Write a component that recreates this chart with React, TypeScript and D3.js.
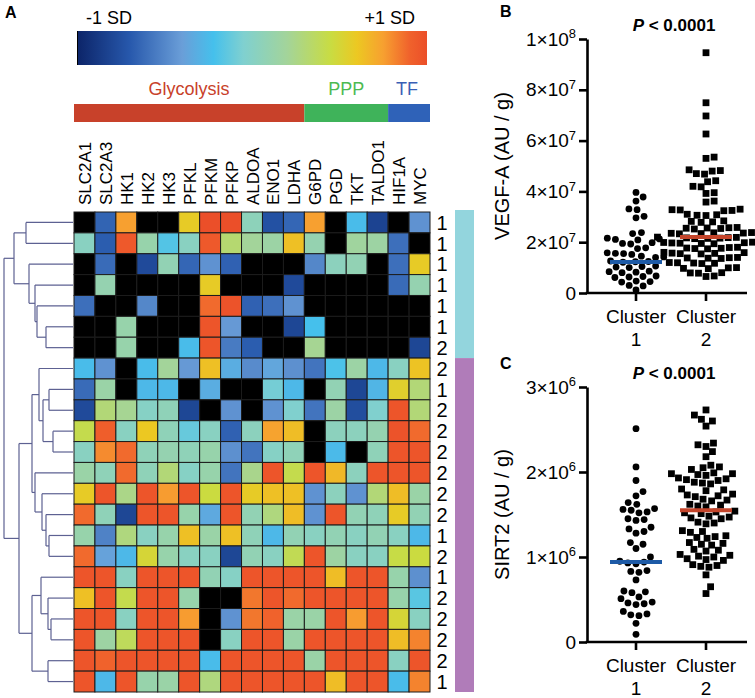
import { useEffect, useRef } from "react";
import * as d3 from "d3";

const FONT = "'Liberation Sans', Arial, Helvetica, sans-serif";

// ---- heatmap data ----
const genes = ["SLC2A1", "SLC2A3", "HK1", "HK2", "HK3", "PFKL", "PFKM", "PFKP", "ALDOA", "ENO1", "LDHA", "G6PD", "PGD", "TKT", "TALDO1", "HIF1A", "MYC"];
const pathwayNames = ["Glycolysis", "PPP", "TF"];
const pathwayGeneCounts = [11, 4, 2];
const rowClusters = [1, 1, 1, 1, 1, 1, 2, 2, 1, 2, 2, 2, 2, 2, 2, 1, 2, 1, 2, 2, 2, 2, 1];
const sideGroupSizes = [7, 16];

// z-scores clipped to [-1, 1]; null = not detected (black)
const heatValues = [
    [null, -0.65, 0.75, null, null, 0.58, 1, 1, 0.05, -0.74, -0.64, 0.75, null, -0.24, -0.82, null, -0.45],
    [0.02, -0.68, 0.95, 0.12, -0.18, 0.02, 0.95, 0.32, 0.2, 0.15, 0.63, 0.1, null, 0.18, 0.16, -0.6, null],
    [null, -0.62, null, -0.78, 0.08, -0.64, -0.45, -0.66, null, null, null, -0.5, 0.04, 0.08, null, -0.6, 0.58],
    [null, 0.1, null, null, null, null, 0.58, null, null, null, -0.78, null, null, null, null, -0.62, 0.1],
    [-0.6, null, null, -0.5, null, null, 0.88, 0.98, -0.66, -0.6, -0.45, null, null, null, null, null, null],
    [null, null, 0.12, null, null, null, 0.97, -0.42, null, null, -0.8, -0.22, null, null, null, null, null],
    [null, null, 0.12, null, null, -0.24, 0.97, -0.55, -0.68, null, null, 0.22, null, null, null, null, -0.8],
    [-0.24, -0.45, null, -0.24, 0.2, -0.42, 0.63, -0.32, -0.48, -0.36, -0.46, -0.58, -0.2, 0.15, -0.26, 0.02, 0.62],
    [-0.62, 0.14, null, -0.26, -0.26, null, -0.32, null, null, -0.08, -0.26, null, 0.08, -0.8, -0.28, 0.55, 0.3],
    [-0.78, 0.3, 0.22, 0.0, 0.06, -0.8, null, -0.45, null, -0.45, -0.04, -0.58, 0.15, -0.76, -0.04, 0.97, 0.3],
    [0.42, 0.92, 0.02, 0.6, 0.06, -0.12, 0.02, -0.66, 0.04, 0.74, 0.64, null, 0.04, 0.04, 0.1, 0.98, 0.88],
    [0.02, 0.8, 0.88, 0.06, 0.1, 0.06, 0.12, -0.46, -0.58, 0.0, 0.06, null, -0.25, null, 0.06, 0.97, 0.97],
    [0.14, 0.06, 0.88, 0.06, 0.3, 0.0, 0.12, -0.58, 0.24, 0.97, 0.42, 0.97, 0.66, 0.04, 0.97, 0.97, 0.97],
    [0.58, 0.97, 0.25, 0.97, 0.76, 0.97, 0.46, 0.97, 0.58, 0.63, 0.63, -0.45, 0.04, -0.45, 0.3, 0.64, 0.14],
    [0.88, 0.06, -0.8, 0.97, 0.97, 0.12, -0.34, 0.97, 0.08, 0.28, 0.64, -0.45, 0.97, 0.08, 0.06, 0.58, 0.08],
    [0.12, -0.52, 0.28, 0.02, 0.12, 0.63, 0.14, 0.63, 0.06, -0.26, 0.08, 0.02, 0.08, 0.02, 0.08, 0.02, -0.26],
    [0.88, -0.38, -0.26, 0.5, 0.12, 0.02, 0.02, -0.8, 0.08, 0.02, 0.4, 0.97, 0.16, 0.02, 0.02, 0.44, 0.46],
    [0.97, 0.97, 0.02, 0.97, 0.97, 0.97, 0.08, 0.0, 0.97, 0.97, 0.97, 0.97, 0.64, 0.97, 0.97, 0.12, -0.46],
    [0.63, 0.97, 0.42, 0.97, 0.97, 0.12, null, null, 0.85, 0.97, 0.88, 0.97, 0.97, 0.97, 0.97, 0.12, -0.16],
    [0.97, 0.97, 0.02, 0.97, 0.97, 0.76, null, -0.45, 0.85, 0.9, 0.14, 0.14, 0.97, 0.76, 0.97, 0.5, 0.02],
    [0.97, 0.16, 0.38, 0.97, 0.97, 0.97, null, 0.02, 0.97, 0.97, 0.14, 0.97, 0.97, 0.97, 0.97, 0.64, 0.82],
    [0.97, 0.9, 0.97, 0.97, 0.97, 0.97, -0.24, 0.97, 0.97, 0.97, 0.97, 0.14, 0.97, 0.97, 0.97, 0.02, 0.97],
    [0.97, -0.26, 0.97, 0.12, 0.14, 0.97, 0.28, 0.97, 0.97, 0.97, 0.97, 0.97, 0.64, 0.97, 0.97, -0.24, 0.82]
];

// row dendrogram (h = merge height, leaf = row index)
const dendrogram = {
    h: 69, children: [
        { h: 59, children: [
            { h: 47, children: [{ leaf: 0 }, { leaf: 1 }] },
            { h: 44, children: [{ leaf: 2 }, { h: 38, children: [{ leaf: 3 }, { h: 36, children: [{ leaf: 4 }, { h: 27, children: [{ leaf: 5 }, { leaf: 6 }] }] }] }] }
        ] },
        { h: 54, children: [
            { h: 41, children: [
                { h: 34, children: [{ leaf: 7 }, { h: 30, children: [{ h: 24, children: [{ leaf: 8 }, { leaf: 9 }] }, { h: 20, children: [{ leaf: 10 }, { leaf: 11 }] }] }] },
                { h: 38, children: [{ leaf: 12 }, { h: 31, children: [{ leaf: 13 }, { h: 27, children: [{ leaf: 14 }, { h: 24, children: [{ leaf: 15 }, { leaf: 16 }] }] }] }] }
            ] },
            { h: 41, children: [
                { h: 32, children: [{ leaf: 17 }, { h: 25, children: [{ leaf: 18 }, { h: 22, children: [{ leaf: 19 }, { leaf: 20 }] }] }] },
                { h: 25, children: [{ leaf: 21 }, { leaf: 22 }] }
            ] }
        ] }
    ]
};

// ---- scatter data ----
const clusterNames = ["1", "2"];
const vegfCluster1 = [
    3.96e7, 3.78e7, 3.62e7, 3.31e7, 3.28e7, 3.02e7, 2.96e7, 2.38e7, 2.34e7,
    2.16e7, 2.13e7, 2.11e7, 2.09e7, 1.98e7, 1.95e7, 1.93e7, 1.78e7, 1.75e7,
    1.58e7, 1.56e7, 1.55e7, 1.52e7, 1.45e7, 1.42e7, 1.4e7,
    1.26e7, 1.24e7, 1.23e7, 1.21e7, 1.06e7, 1.04e7, 1.02e7, 1.0e7,
    0.86e7, 0.84e7, 0.82e7, 0.8e7, 0.67e7, 0.65e7, 0.63e7, 0.61e7,
    0.47e7, 0.45e7, 0.43e7, 0.3e7, 0.28e7, 0.12e7
];
const vegfCluster2 = [
    9.46e7, 7.49e7, 6.97e7, 6.26e7, 5.35e7, 5.3e7,
    4.85e7, 4.82e7, 4.8e7, 4.7e7, 4.68e7, 4.42e7, 4.38e7, 4.2e7, 4.18e7, 3.95e7, 3.92e7, 3.62e7, 3.58e7,
    3.3e7, 3.28e7, 3.27e7, 3.25e7, 3.24e7, 3.1e7, 3.08e7, 3.06e7, 3.05e7,
    2.84e7, 2.82e7, 2.8e7, 2.78e7, 2.58e7, 2.57e7, 2.56e7, 2.55e7, 2.54e7, 2.52e7,
    2.4e7, 2.38e7, 2.37e7, 2.36e7, 2.35e7, 2.34e7, 2.33e7,
    2.2e7, 2.19e7, 2.18e7, 2.17e7, 2.16e7, 2.15e7, 2.14e7,
    2.0e7, 1.99e7, 1.98e7, 1.97e7, 1.96e7, 1.95e7, 1.94e7,
    1.8e7, 1.79e7, 1.77e7, 1.76e7, 1.75e7, 1.74e7,
    1.6e7, 1.59e7, 1.57e7, 1.56e7, 1.55e7, 1.54e7,
    1.4e7, 1.39e7, 1.38e7, 1.37e7, 1.36e7,
    1.2e7, 1.19e7, 1.18e7, 1.17e7, 1.16e7,
    1.0e7, 0.99e7, 0.97e7, 0.96e7, 0.8e7, 0.79e7, 0.78e7, 0.67e7, 0.65e7
];
const vegfCenters = [1.22e7, 2.2e7];

const sirtCluster1 = [
    2.51e6, 2.06e6, 1.9e6, 1.77e6, 1.72e6, 1.64e6, 1.62e6, 1.57e6, 1.56e6, 1.55e6,
    1.53e6, 1.52e6, 1.45e6, 1.44e6, 1.43e6, 1.35e6, 1.33e6, 1.3e6, 1.28e6, 1.17e6,
    1.15e6, 1.1e6, 1.0e6, 0.95e6, 0.94e6, 0.93e6, 0.92e6, 0.84e6, 0.83e6, 0.82e6,
    0.73e6, 0.6e6, 0.59e6, 0.58e6, 0.53e6, 0.51e6, 0.47e6, 0.46e6, 0.45e6, 0.44e6,
    0.36e6, 0.33e6, 0.32e6, 0.31e6, 0.22e6, 0.09e6
];
const sirtCluster2 = [
    2.73e6, 2.67e6, 2.62e6, 2.6e6, 2.54e6, 2.34e6, 2.32e6, 2.3e6, 2.24e6, 2.18e6,
    2.08e6, 2.06e6, 2.05e6, 2.03e6, 1.99e6, 1.98e6, 1.98e6, 1.97e6, 1.96e6,
    1.93e6, 1.92e6, 1.91e6, 1.9e6, 1.88e6, 1.87e6, 1.86e6, 1.8e6, 1.79e6, 1.78e6,
    1.74e6, 1.73e6, 1.72e6, 1.71e6, 1.68e6, 1.67e6, 1.66e6,
    1.62e6, 1.61e6, 1.6e6, 1.59e6, 1.54e6, 1.53e6, 1.52e6, 1.51e6,
    1.48e6, 1.47e6, 1.46e6, 1.45e6, 1.41e6, 1.4e6, 1.39e6, 1.31e6, 1.3e6, 1.29e6,
    1.25e6, 1.24e6, 1.23e6, 1.22e6, 1.17e6, 1.16e6, 1.15e6, 1.14e6,
    1.09e6, 1.08e6, 1.07e6, 1.03e6, 1.02e6, 1.01e6, 1.0e6,
    0.98e6, 0.97e6, 0.96e6, 0.91e6, 0.9e6, 0.89e6, 0.88e6, 0.79e6, 0.65e6, 0.57e6
];
const sirtCenters = [0.94e6, 1.55e6];

// colour ramp of the SD key
const heatStops = [-1, -0.7, -0.4, -0.22, -0.05, 0.2, 0.45, 0.6, 0.75, 0.9, 1];
const heatColors = ["#0c2468", "#2758ac", "#6a9ed8", "#45c0ec", "#7fd0d0", "#a3d49a", "#c9dc42", "#ecc822", "#f7a030", "#f0622c", "#eb4f29"];
const pathwayColors = ["#c8412a", "#3fb35a", "#2f62b8"];
const pathwayTextColors = ["#c8412a", "#4cba52", "#3a5fb5"];
const sideColors = ["#93d5dd", "#b07cb9"];

// simple beeswarm: place each point as close to centre as possible without overlap
function swarm(values, yScale, cx, d) {
    const pts = values.map((v) => ({ v, y: yScale(v), dx: 0 })).sort((a, b) => b.y - a.y);
    const placed = [];
    pts.forEach((p) => {
        const near = placed.filter((q) => Math.abs(q.y - p.y) < d);
        const cands = [0];
        near.forEach((q) => {
            const off = Math.sqrt(d * d - (q.y - p.y) ** 2);
            cands.push(q.dx + off, q.dx - off);
        });
        cands.sort((a, b) => Math.abs(a) - Math.abs(b));
        for (const c of cands) {
            if (near.every((q) => (q.dx - c) ** 2 + (q.y - p.y) ** 2 >= d * d - 0.01)) {
                p.dx = c;
                break;
            }
        }
        placed.push(p);
    });
    return placed.map((p) => ({ ...p, x: cx + p.dx }));
}

const App = () => {
    const svgRef = useRef(null);

    useEffect(() => {
        const svg = d3.select(svgRef.current);
        svg.selectAll("*").remove();
        svg.attr("font-family", FONT);

        const color = d3.scaleLinear().domain(heatStops).range(heatColors).clamp(true);

        // ---------- panel A ----------
        svg.append("text").attr("x", 5).attr("y", 18).attr("font-size", 16).attr("font-weight", "bold").text("A");

        // SD key
        const grad = svg.append("defs").append("linearGradient").attr("id", "sdgrad");
        heatStops.forEach((s, i) => {
            grad.append("stop").attr("offset", `${((s + 1) / 2) * 100}%`).attr("stop-color", heatColors[i]);
        });
        svg.append("rect").attr("x", 77).attr("y", 31).attr("width", 350).attr("height", 34).attr("fill", "url(#sdgrad)");
        svg.append("line").attr("x1", 77.5).attr("x2", 77.5).attr("y1", 31).attr("y2", 65).attr("stroke", "#000").attr("stroke-width", 1);
        svg.append("text").attr("x", 86).attr("y", 24).attr("font-size", 18).text("-1 SD");
        svg.append("text").attr("x", 415).attr("y", 24).attr("font-size", 18).attr("text-anchor", "end").text("+1 SD");

        const x = d3.scaleBand().domain(genes).range([74, 430]);
        const y = d3.scaleBand().domain(d3.range(heatValues.length)).range([212, 692]);

        // pathway bar
        let start = 0;
        pathwayNames.forEach((name, i) => {
            const g0 = genes[start];
            const g1 = genes[start + pathwayGeneCounts[i] - 1];
            const x0 = x(g0);
            const x1 = x(g1) + x.bandwidth();
            svg.append("rect").attr("x", x0).attr("y", 104).attr("width", x1 - x0).attr("height", 18).attr("fill", pathwayColors[i]);
            const cx = i === 0 ? 189 : (x0 + x1) / 2 + (i === 2 ? -2 : 0);
            svg.append("text").attr("x", cx).attr("y", 95).attr("text-anchor", "middle")
                .attr("font-size", 18).attr("fill", pathwayTextColors[i]).text(name);
            start += pathwayGeneCounts[i];
        });

        // gene labels
        svg.append("g")
            .selectAll("text")
            .data(genes)
            .join("text")
            .attr("transform", (d) => `translate(${x(d) + x.bandwidth() / 2 + 6.5},205) rotate(-90)`)
            .attr("font-size", 17)
            .text((d) => d);

        // cells
        const cells = heatValues.flatMap((row, r) => row.map((v, c) => ({ r, c, v })));
        svg.append("g")
            .selectAll("rect")
            .data(cells)
            .join("rect")
            .attr("x", (d) => x(genes[d.c]))
            .attr("y", (d) => y(d.r))
            .attr("width", x.bandwidth())
            .attr("height", y.bandwidth())
            .attr("fill", (d) => (d.v === null ? "#000" : color(d.v)))
            .attr("stroke", "#1c1c1c")
            .attr("stroke-width", 1);

        // cluster numbers
        svg.append("g")
            .selectAll("text")
            .data(rowClusters)
            .join("text")
            .attr("x", 442)
            .attr("y", (d, i) => y(i) + y.bandwidth() / 2)
            .attr("dy", "0.36em")
            .attr("text-anchor", "middle")
            .attr("font-size", 20)
            .text((d) => d);

        // side bar
        let rowStart = 0;
        sideGroupSizes.forEach((n, i) => {
            const y0 = i === 0 ? 210 : y(rowStart);
            const y1 = y(rowStart + n - 1) + y.bandwidth();
            svg.append("rect").attr("x", 455).attr("y", y0).attr("width", 19).attr("height", y1 - y0).attr("fill", sideColors[i]);
            rowStart += n;
        });

        // dendrogram
        const root = d3.hierarchy(dendrogram);
        const hx = d3.scaleLinear().domain([0, 69]).range([73, 4]);
        root.eachAfter((node) => {
            if (node.data.leaf !== undefined) {
                node.py = y(node.data.leaf) + y.bandwidth() / 2;
                node.px = hx(0);
            } else {
                node.py = (node.children[0].py + node.children[node.children.length - 1].py) / 2;
                node.px = hx(node.data.h);
            }
        });
        const segs = [];
        root.each((node) => {
            if (!node.children) return;
            const a = node.children[0];
            const b = node.children[node.children.length - 1];
            segs.push([node.px, a.py, node.px, b.py]);
            node.children.forEach((ch) => segs.push([node.px, ch.py, ch.px, ch.py]));
        });
        svg.append("g")
            .selectAll("line")
            .data(segs)
            .join("line")
            .attr("x1", (d) => d[0])
            .attr("y1", (d) => d[1])
            .attr("x2", (d) => d[2])
            .attr("y2", (d) => d[3])
            .attr("stroke", "#5d6192")
            .attr("stroke-width", 1.2);

        // ---------- panels B, C ----------
        const axisX = 587;
        const xr = d3.scalePoint().domain(clusterNames).range([636, 706]);

        const drawPanel = (opts) => {
            const g = svg.append("g");
            const ys = d3.scaleLinear().domain([0, opts.max]).range([opts.bottom, opts.top]);

            g.append("text").attr("x", 500).attr("y", opts.letterY).attr("font-size", 16).attr("font-weight", "bold").text(opts.letter);

            const pt = g.append("text").attr("x", 674).attr("y", opts.top - 8).attr("text-anchor", "middle")
                .attr("font-size", 17).attr("font-weight", "bold");
            pt.append("tspan").attr("font-style", "italic").text("P");
            pt.append("tspan").text(" < 0.0001");

            const yAxis = g.append("g")
                .attr("transform", `translate(${axisX},0)`)
                .call(d3.axisLeft(ys).tickValues(opts.ticks).tickSize(8).tickPadding(3).tickSizeOuter(0).tickFormat(() => ""));
            yAxis.attr("font-size", 19).attr("font-family", FONT);
            yAxis.select(".domain").attr("stroke", "#000").attr("stroke-width", 2.6);
            yAxis.selectAll(".tick line").attr("stroke", "#000").attr("stroke-width", 2.6);
            yAxis.selectAll(".tick text").attr("fill", "#000").each(function (d) {
                const t = d3.select(this);
                if (d === 0) {
                    t.text("0");
                    return;
                }
                const e = Math.floor(Math.log10(d) + 1e-9);
                const m = Math.round(d / 10 ** e);
                t.append("tspan").text(`${m}×10`);
                t.append("tspan").attr("dy", "-0.55em").attr("font-size", "0.68em").text(e);
            });

            g.append("line").attr("x1", axisX - 1.3).attr("x2", 747).attr("y1", opts.bottom).attr("y2", opts.bottom)
                .attr("stroke", "#000").attr("stroke-width", 2.6);
            clusterNames.forEach((c) => {
                g.append("line").attr("x1", xr(c)).attr("x2", xr(c)).attr("y1", opts.bottom).attr("y2", opts.bottom + 8)
                    .attr("stroke", "#000").attr("stroke-width", 2.6);
                g.append("text").attr("x", xr(c)).attr("y", opts.bottom + 30).attr("text-anchor", "middle").attr("font-size", 19).text("Cluster");
                g.append("text").attr("x", xr(c)).attr("y", opts.bottom + 53).attr("text-anchor", "middle").attr("font-size", 19).text(c);
            });

            g.append("text")
                .attr("transform", `translate(509,${(opts.top + opts.bottom) / 2}) rotate(-90)`)
                .attr("text-anchor", "middle")
                .attr("font-size", 20)
                .text(opts.label);

            const p1 = swarm(opts.c1, ys, xr("1"), 8.2);
            const p2 = swarm(opts.c2, ys, xr("2"), 8.2);
            g.append("g").selectAll("circle").data(p1).join("circle")
                .attr("cx", (d) => d.x).attr("cy", (d) => d.y).attr("r", 3.4).attr("fill", "#000");
            g.append("g").selectAll("rect").data(p2).join("rect")
                .attr("x", (d) => d.x - 3.4).attr("y", (d) => d.y - 3.4).attr("width", 6.8).attr("height", 6.8).attr("fill", "#000");

            const lineColors = ["#1d5aa6", "#c4452b"];
            opts.centers.forEach((v, i) => {
                const cx = xr(clusterNames[i]);
                g.append("line").attr("x1", cx - 26).attr("x2", cx + 26).attr("y1", ys(v)).attr("y2", ys(v))
                    .attr("stroke", lineColors[i]).attr("stroke-width", 4);
            });
        };

        drawPanel({
            letter: "B", letterY: 17, top: 39, bottom: 293, max: 1e8,
            ticks: [0, 2e7, 4e7, 6e7, 8e7, 1e8], label: "VEGF-A (AU / g)",
            c1: vegfCluster1, c2: vegfCluster2, centers: vegfCenters
        });
        drawPanel({
            letter: "C", letterY: 369, top: 387, bottom: 642, max: 3e6,
            ticks: [0, 1e6, 2e6, 3e6], label: "SIRT2 (AU / g)",
            c1: sirtCluster1, c2: sirtCluster2, centers: sirtCenters
        });
    }, []);

    return (
        <div style={{ position: "absolute", left: 0, top: 0 }}>
            <svg ref={svgRef} width={755} height={698}></svg>
        </div>
    );
};

export default App;
